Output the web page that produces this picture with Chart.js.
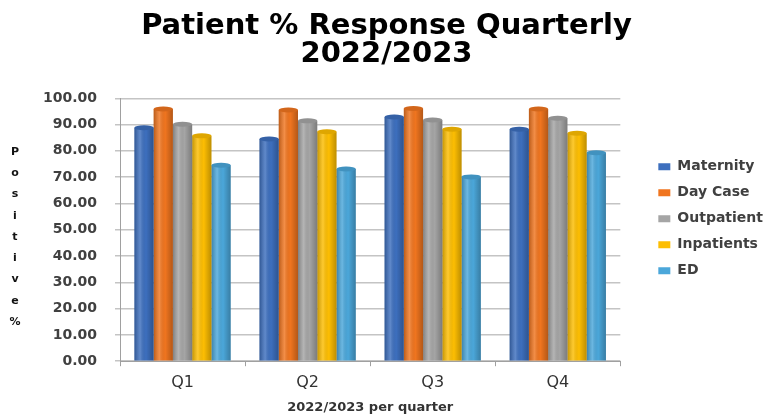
<!DOCTYPE html>
<html>
<head>
<meta charset="utf-8">
<script src="https://cdn.jsdelivr.net/npm/chart.js@4/dist/chart.umd.min.js"></script>
<style>
html,body{margin:0;padding:0;background:#fff}
#wrap{width:773px;height:415px}
</style>
</head>
<body>
<div id="wrap"><canvas id="chart"></canvas></div>
<script>
// data
const quarters = ['Q1', 'Q2', 'Q3', 'Q4'];
const maternity = [88.8, 84.5, 92.9, 88.2];
const dayCase = [95.9, 95.5, 96.1, 95.9];
const outpatient = [90.1, 91.4, 91.7, 92.4];
const inpatients = [85.7, 87.3, 88.2, 86.7];
const ed = [74.5, 73.1, 70.1, 79.3];
const seriesNames = ['Maternity', 'Day Case', 'Outpatient', 'Inpatients', 'ED'];
const seriesColors = ['#3d6fbe', '#f0751f', '#a5a5a5', '#fdbe02', '#4ba7da'];
const yTitleLetters = ['P', 'o', 's', 'i', 't', 'i', 'v', 'e', '%'];

const FONT = 'DejaVu Sans';

// vertical stacked letters for the y title
const letterTitle = {
    id: 'letterTitle',
    afterDraw(chart){
        const ctx = chart.ctx;
        ctx.save();
        ctx.font = 'bold 11px "' + FONT + '"';
        ctx.fillStyle = '#111';
        ctx.textAlign = 'center';
        ctx.textBaseline = 'middle';
        yTitleLetters.forEach((l, i) => ctx.fillText(l, 15, 152 + i * 21.25));
        ctx.restore();
    }
};

// cylinder-ish shading and top caps on the bars
const barShade = {
    id: 'barShade',
    afterDatasetsDraw(chart){
        const ctx = chart.ctx;
        chart.data.datasets.forEach((ds, i) => {
            const meta = chart.getDatasetMeta(i);
            meta.data.forEach(bar => {
                const w = bar.width, x0 = bar.x - w / 2;
                const g = ctx.createLinearGradient(x0, 0, x0 + w, 0);
                g.addColorStop(0, 'rgba(0,0,0,0.22)');
                g.addColorStop(0.3, 'rgba(255,255,255,0.18)');
                g.addColorStop(0.6, 'rgba(0,0,0,0)');
                g.addColorStop(1, 'rgba(0,0,0,0.25)');
                ctx.save();
                ctx.fillStyle = g;
                ctx.fillRect(x0, bar.y, w, bar.base - bar.y);
                ctx.beginPath();
                ctx.ellipse(bar.x, bar.y, w / 2, 2.5, 0, 0, Math.PI * 2);
                ctx.fillStyle = ds.backgroundColor;
                ctx.fill();
                ctx.fillStyle = 'rgba(0,0,0,0.12)';
                ctx.fill();
                ctx.restore();
            });
        });
    }
};

const datasets = [maternity, dayCase, outpatient, inpatients, ed].map((vals, i) => ({
    label: seriesNames[i],
    data: vals,
    backgroundColor: seriesColors[i],
    borderWidth: 0,
    categoryPercentage: 0.77,
    barPercentage: 1
}));

new Chart(document.getElementById('chart'), {
    type: 'bar',
    data: { labels: quarters, datasets: datasets },
    options: {
        responsive: true,
        maintainAspectRatio: false,
        animation: false,
        layout: { padding: { left: 0, right: 0, top: 0, bottom: 0 } },
        plugins: {
            title: {
                display: true,
                text: ['Patient % Response Quarterly', '2022/2023'],
                font: { family: FONT, size: 29, weight: 'bold', lineHeight: 0.97 },
                color: '#000',
                padding: { top: 12, bottom: 30 }
            },
            legend: {
                position: 'right',
                align: 'center',
                // blank title only pushes the items down a little
                title: { display: true, text: ' ', font: { size: 12 }, padding: 4 },
                labels: {
                    boxWidth: 12, boxHeight: 7, padding: 12,
                    font: { family: FONT, size: 14, weight: 'bold' },
                    color: '#404040'
                }
            },
            tooltip: { enabled: false }
        },
        scales: {
            x: {
                grid: { offset: true, drawOnChartArea: false, tickLength: 5, color: '#a0a0a0' },
                border: { color: '#a0a0a0' },
                ticks: { font: { family: FONT, size: 16 }, color: '#333', padding: 7 },
                title: {
                    display: true, text: '2022/2023 per quarter',
                    font: { family: FONT, size: 13, weight: 'bold' }, color: '#333',
                    padding: { top: 0, bottom: 0 }
                }
            },
            y: {
                min: 0, max: 100,
                grid: { color: '#c4c4c4', lineWidth: 1.5, tickLength: 5 },
                border: { color: '#a0a0a0' },
                ticks: {
                    stepSize: 10,
                    callback: v => v.toFixed(2),
                    font: { family: FONT, size: 14, weight: 'bold' },
                    color: '#404040', padding: 18
                },
                afterFit(s){ s.width = 120; }
            },
            gap: {
                type: 'linear', position: 'right', display: true,
                grid: { display: false }, border: { display: false },
                ticks: { display: false },
                afterFit(s){ s.width = 26; }
            }
        }
    },
    plugins: [letterTitle, barShade]
});
</script>
</body>
</html>
